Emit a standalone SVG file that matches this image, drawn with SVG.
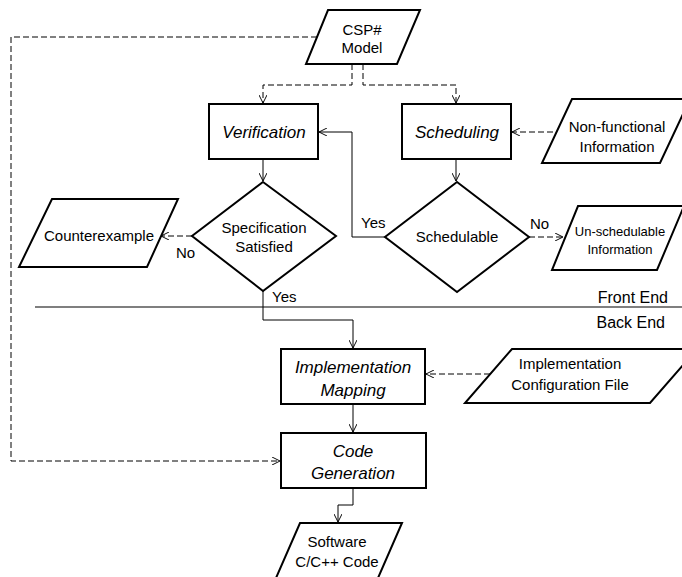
<svg xmlns="http://www.w3.org/2000/svg" width="682" height="577" viewBox="0 0 682 577">
<defs>
<marker id="arr" viewBox="0 0 10 10" refX="10" refY="5" markerWidth="8" markerHeight="8" markerUnits="userSpaceOnUse" orient="auto">
<path d="M0,0 L10,5 L0,10" fill="none" stroke="#000" stroke-width="1.2"/>
</marker>
<style>
.box{fill:#fff;stroke:#000;stroke-width:2}
.t{font-family:"Liberation Sans",Arial,sans-serif;font-size:15px;fill:#000;text-anchor:middle}
.ti{font-family:"Liberation Sans",Arial,sans-serif;font-size:17px;font-style:italic;fill:#000;text-anchor:middle}
.ts{font-family:"Liberation Sans",Arial,sans-serif;font-size:13px;fill:#000;text-anchor:middle}
.lbl{font-family:"Liberation Sans",Arial,sans-serif;font-size:15px;fill:#000}
.c{fill:none;stroke:#000;stroke-width:1}
.d{fill:none;stroke:#000;stroke-width:1;stroke-dasharray:6,3}
</style>
</defs>
<rect width="682" height="577" fill="#fff"/>
<g id="connectors">
<path class="d" d="M317,37 H11 V461 H280" marker-end="url(#arr)"/>
<path class="d" d="M352,64 V85 H263 V103" marker-end="url(#arr)"/>
<path class="d" d="M363,64 V85 H456 V103" marker-end="url(#arr)"/>
<path class="c" d="M263,159 V181" marker-end="url(#arr)"/>
<path class="c" d="M456,159 V181" marker-end="url(#arr)"/>
<path class="c" d="M385,237 H352 V132 H319" marker-end="url(#arr)"/>
<path class="c" d="M263,291 V320 H353 V348" marker-end="url(#arr)"/>
<path class="c" d="M353,404 V432" marker-end="url(#arr)"/>
<path class="c" d="M353,488 V505 H338 V522" marker-end="url(#arr)"/>
<path class="d" d="M553,132 H512" marker-end="url(#arr)"/>
<path class="d" d="M192,236 H161" marker-end="url(#arr)"/>
<path class="d" d="M529,237 H563" marker-end="url(#arr)"/>
<path class="d" d="M490,374 H426" marker-end="url(#arr)"/>
<text class="lbl" x="272" y="302">Yes</text>
<text class="lbl" x="361" y="228">Yes</text>
<text class="lbl" x="176" y="258">No</text>
<text class="lbl" x="530" y="229">No</text>
</g>
<g id="divider">
<line x1="35" y1="307" x2="682" y2="307" stroke="#000" stroke-width="1.2"/>
<text class="lbl" x="668" y="303" style="font-size:16px;text-anchor:end">Front End</text>
<text class="lbl" x="665" y="328" style="font-size:16px;text-anchor:end">Back End</text>
</g>
<g id="csp-model">
<polygon class="box" points="328,10 420,10 397,64 306,64"/>
<text class="t" x="362" y="35">CSP#</text>
<text class="t" x="362" y="53">Model</text>
</g>
<g id="verification">
<rect class="box" x="209" y="104" width="109" height="55"/>
<text class="ti" x="264" y="138">Verification</text>
</g>
<g id="scheduling">
<rect class="box" x="402" y="104" width="109" height="55"/>
<text class="ti" x="457" y="138">Scheduling</text>
</g>
<g id="non-functional">
<polygon class="box" points="572,99 690,99 660,163 542,163"/>
<text class="t" x="617" y="132">Non-functional</text>
<text class="t" x="617" y="152">Information</text>
</g>
<g id="spec-satisfied">
<polygon class="box" points="263,182 336,236 263,291 192,236"/>
<text class="t" x="264" y="233">Specification</text>
<text class="t" x="264" y="252">Satisfied</text>
</g>
<g id="schedulable">
<polygon class="box" points="457,182 529,237 457,292 385,237"/>
<text class="t" x="457" y="242">Schedulable</text>
</g>
<g id="counterexample">
<polygon class="box" points="52,199 178,199 147,267 19,267"/>
<text class="t" x="99" y="241">Counterexample</text>
</g>
<g id="unschedulable">
<polygon class="box" points="578,206 684,206 657,270 552,270"/>
<text class="ts" x="620" y="236">Un-schedulable</text>
<text class="ts" x="620" y="254">Information</text>
</g>
<g id="impl-mapping">
<rect class="box" x="281" y="349" width="144" height="55"/>
<text class="ti" x="353" y="373">Implementation</text>
<text class="ti" x="353" y="396">Mapping</text>
</g>
<g id="impl-config">
<polygon class="box" points="512,349 697,349 650,403 465,403"/>
<text class="t" x="570" y="369">Implementation</text>
<text class="t" x="570" y="390">Configuration File</text>
</g>
<g id="code-generation">
<rect class="box" x="281" y="433" width="145" height="55"/>
<text class="ti" x="353" y="457">Code</text>
<text class="ti" x="353" y="479">Generation</text>
</g>
<g id="software">
<polygon class="box" points="300,523 402,523 378,578 276,578"/>
<text class="t" x="337" y="547">Software</text>
<text class="t" x="337" y="567">C/C++ Code</text>
</g>
</svg>
